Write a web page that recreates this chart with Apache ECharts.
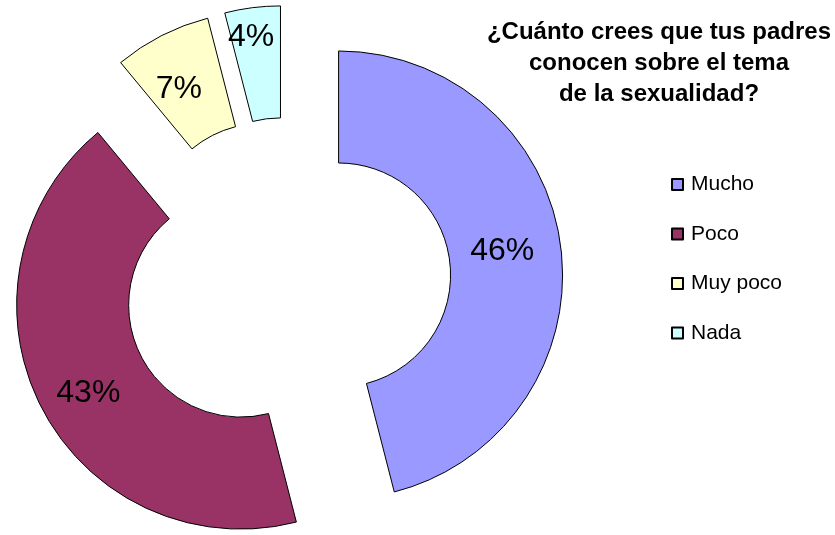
<!DOCTYPE html>
<html>
<head>
<meta charset="utf-8">
<script src="https://cdn.jsdelivr.net/npm/echarts@6/dist/echarts.min.js"></script>
<style>html,body{margin:0;padding:0;background:#fff}#c{width:835px;height:535px}</style>
</head>
<body>
<div id="c"></div>
<script>
const categories = ['Mucho', 'Poco', 'Muy poco', 'Nada'];
const values = [46, 43, 7, 4];
const colors = ['#9999FF', '#993366', '#FFFFCC', '#CCFFFF'];
const titleText = '¿Cuánto crees que tus padres\nconocen sobre el tema\nde la sexualidad?';

const labelShifts = [[-6, -2], [0, 10], [-7, 6], [-8, -23]];
const chart = echarts.init(document.getElementById('c'), null, {renderer: 'canvas'});
chart.setOption({
  animation: false,
  backgroundColor: '#fff',
  title: {
    text: titleText,
    left: 654,
    top: 12,
    textAlign: 'center',
    textStyle: {fontFamily: 'Liberation Sans, Arial', fontWeight: 'bold', fontSize: 24, lineHeight: 31, color: '#000'}
  },
  legend: {
    orient: 'vertical',
    left: 671,
    top: 174,
    padding: 0,
    itemWidth: 11,
    itemHeight: 11,
    itemGap: 28.5,
    selectedMode: false,
    icon: 'rect',
    textStyle: {fontFamily: 'Liberation Sans, Arial', fontSize: 21, lineHeight: 21, color: '#000', padding: [0, 0, 0, 3]},
    data: categories
  },
  series: [{
    type: 'pie',
    center: [287, 281.5],
    radius: [112, 224],
    startAngle: 90,
    clockwise: true,
    selectedMode: 'multiple',
    selectedOffset: 52,
    avoidLabelOverlap: false,
    emphasis: {disabled: true},
    itemStyle: {borderColor: '#000', borderWidth: 1},
    label: {
      show: true,
      position: 'inside',
      formatter: '{d}%',
      fontFamily: 'Liberation Sans, Arial',
      fontSize: 32,
      color: '#000'
    },
    labelLayout: function (p) {
      const s = labelShifts[p.dataIndex];
      return {dx: s[0], dy: s[1]};
    },
    labelLine: {show: false},
    data: categories.map((c, i) => ({
      name: c,
      value: values[i],
      selected: true,
      itemStyle: {color: colors[i]}
    }))
  }]
});
</script>
</body>
</html>
